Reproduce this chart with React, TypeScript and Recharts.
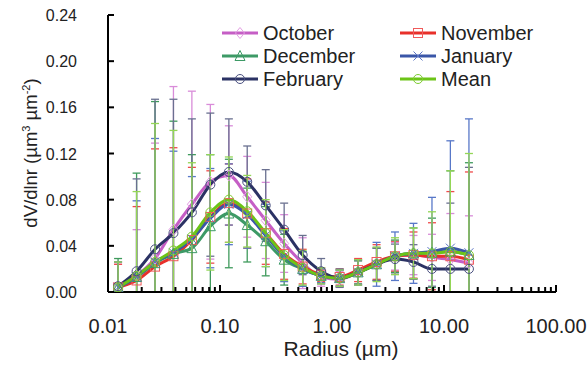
import React from 'react';
import { ComposedChart, Line, XAxis, YAxis, ErrorBar } from 'recharts';

// radius bins (µm)
const radii = [0.0123, 0.018, 0.0263, 0.0384, 0.0561, 0.082, 0.12, 0.175, 0.256, 0.374, 0.547, 0.8, 1.17, 1.71, 2.5, 3.65, 5.34, 7.81, 11.4, 16.7];

const october = [0.004, 0.014, 0.029, 0.054, 0.076, 0.0955, 0.101, 0.0825, 0.062, 0.042, 0.025, 0.013, 0.011, 0.017, 0.024, 0.031, 0.032, 0.03, 0.028, 0.025];
const november = [0.004, 0.01, 0.022, 0.031, 0.045, 0.065, 0.077, 0.068, 0.051, 0.033, 0.022, 0.015, 0.013, 0.019, 0.026, 0.031, 0.032, 0.031, 0.031, 0.028];
const december = [0.004, 0.013, 0.025, 0.033, 0.038, 0.057, 0.068, 0.058, 0.044, 0.028, 0.02, 0.014, 0.012, 0.017, 0.024, 0.031, 0.0335, 0.034, 0.035, 0.032];
const january = [0.004, 0.013, 0.026, 0.034, 0.046, 0.064, 0.076, 0.067, 0.049, 0.031, 0.02, 0.014, 0.012, 0.017, 0.024, 0.031, 0.0335, 0.035, 0.038, 0.034];
const february = [0.005, 0.018, 0.037, 0.051, 0.069, 0.093, 0.104, 0.0955, 0.075, 0.054, 0.032, 0.018, 0.012, 0.017, 0.024, 0.0285, 0.026, 0.02, 0.02, 0.02];
const mean = [0.004, 0.014, 0.026, 0.036, 0.048, 0.069, 0.08, 0.07, 0.051, 0.032, 0.021, 0.014, 0.012, 0.017, 0.024, 0.031, 0.0335, 0.0335, 0.035, 0.032];

// standard deviations
const octoberErr = [0.02, 0.04, 0.1, 0.124, 0.098, 0.067, 0.043, 0.035, 0.033, 0.025, 0.022, 0.008, 0.007, 0.01, 0.014, 0.012, 0.017, 0.02, 0.04, 0.041];
const novemberErr = [0.02, 0.064, 0.102, 0.094, 0.063, 0.04, 0.034, 0.03, 0.027, 0.022, 0.015, 0.006, 0.007, 0.01, 0.015, 0.013, 0.02, 0.029, 0.056, 0.076];
const decemberErr = [0.025, 0.09, 0.14, 0.115, 0.081, 0.062, 0.047, 0.032, 0.03, 0.022, 0.015, 0.006, 0.007, 0.01, 0.014, 0.014, 0.022, 0.03, 0.07, 0.08];
const januaryErr = [0.022, 0.066, 0.107, 0.088, 0.054, 0.043, 0.035, 0.029, 0.027, 0.022, 0.015, 0.006, 0.007, 0.011, 0.019, 0.021, 0.026, 0.047, 0.093, 0.116];
const februaryErr = [0.021, 0.08, 0.13, 0.116, 0.081, 0.062, 0.046, 0.031, 0.031, 0.023, 0.017, 0.011, 0.008, 0.011, 0.014, 0.013, 0.015, 0.015, 0.057, 0.088];
const meanErr = [0.022, 0.073, 0.12, 0.104, 0.064, 0.05, 0.037, 0.031, 0.029, 0.022, 0.015, 0.007, 0.007, 0.011, 0.015, 0.016, 0.022, 0.036, 0.07, 0.088];

const xTicks = [
  0.01, 0.02, 0.03, 0.04, 0.05, 0.06, 0.07, 0.08, 0.09,
  0.1, 0.2, 0.3, 0.4, 0.5, 0.6, 0.7, 0.8, 0.9,
  1, 2, 3, 4, 5, 6, 7, 8, 9,
  10, 20, 30, 40, 50, 60, 70, 80, 90,
  100,
];
const xMajor = [0.01, 0.1, 1, 10, 100];
const yTicks = [0, 0.04, 0.08, 0.12, 0.16, 0.2, 0.24];

const FONT = '"Liberation Sans", Arial, sans-serif';

// error bars stop at the x axis (lower arm cut at zero)
const bar = (v: number, e: number) => [Math.min(e, v), e];

const data = radii.map((r, i) => ({
  r,
  oct: october[i], octErr: bar(october[i], octoberErr[i]),
  nov: november[i], novErr: bar(november[i], novemberErr[i]),
  dec: december[i], decErr: bar(december[i], decemberErr[i]),
  jan: january[i], janErr: bar(january[i], januaryErr[i]),
  feb: february[i], febErr: bar(february[i], februaryErr[i]),
  mean: mean[i], meanErr: bar(mean[i], meanErr[i]),
}));

type Shape = 'diamond' | 'square' | 'triangle' | 'cross' | 'circle';

const series = [
  { key: 'oct', name: 'October', color: '#c55ec5', mark: '#e39de3', err: '#d98cd9', shape: 'diamond' as Shape },
  { key: 'nov', name: 'November', color: '#e8302a', mark: '#f05a5a', err: '#ef4a4a', shape: 'square' as Shape },
  { key: 'dec', name: 'December', color: '#3d9a66', mark: '#3d9a66', err: '#3f9a5c', shape: 'triangle' as Shape },
  { key: 'jan', name: 'January', color: '#3a56a8', mark: '#5a74c4', err: '#5878c8', shape: 'cross' as Shape },
  { key: 'feb', name: 'February', color: '#2b3264', mark: '#4a5080', err: '#6a7090', shape: 'circle' as Shape },
  { key: 'mean', name: 'Mean', color: '#6cc417', mark: '#7dcc30', err: '#94d656', shape: 'circle' as Shape },
];

function Marker({ cx, cy, shape, color }: { cx: number; cy: number; shape: Shape; color: string }) {
  const s = 4.5;
  const p = { fill: 'none', stroke: color, strokeWidth: 1 };
  if (shape === 'diamond') return <polygon points={`${cx},${cy - s - 1} ${cx + s},${cy} ${cx},${cy + s + 1} ${cx - s},${cy}`} {...p} />;
  if (shape === 'square') return <rect x={cx - s} y={cy - s} width={s * 2} height={s * 2} {...p} />;
  if (shape === 'triangle') return <polygon points={`${cx},${cy - s - 1} ${cx + s + 0.5},${cy + s} ${cx - s - 0.5},${cy + s}`} {...p} />;
  if (shape === 'cross') return <path d={`M${cx - s},${cy - s}L${cx + s},${cy + s}M${cx - s},${cy + s}L${cx + s},${cy - s}`} {...p} />;
  return <circle cx={cx} cy={cy} r={s} {...p} />;
}

const XTick = (props: any) => {
  const { x, y, payload } = props;
  const v = payload.value;
  const major = xMajor.includes(v);
  return (
    <g>
      <line x1={x} y1={y} x2={x} y2={y - (major ? 7 : 5)} stroke="#000" strokeWidth={2} />
      {major && (
        <text x={x} y={y + 41} textAnchor="middle" fontSize={20} fontFamily={FONT} fill="#222">
          {v.toFixed(2)}
        </text>
      )}
    </g>
  );
};

const YTick = (props: any) => {
  const { x, y, payload } = props;
  return (
    <g>
      <line x1={x} y1={y} x2={x + 6} y2={y} stroke="#000" strokeWidth={2} />
      <text x={x - 31} y={y + 6} textAnchor="end" fontSize={16} fontFamily={FONT} fill="#222">
        {payload.value.toFixed(2)}
      </text>
    </g>
  );
};

const YTitle = () => (
  <text x={37} y={153} transform="rotate(-90 37 153)" textAnchor="middle" fontSize={18.5} fontFamily={FONT} fill="#222">
    dV/dlnr (µm
    <tspan dy={-7} fontSize={11}>3</tspan>
    <tspan dy={7}> µm</tspan>
    <tspan dy={-7} fontSize={11}>-2</tspan>
    <tspan dy={7}>)</tspan>
  </text>
);

const LegendBox = () => {
  const cols = [222, 400];
  const rows = [33, 56, 79];
  return (
    <svg width={587} height={100} style={{ position: 'absolute', left: 0, top: 0, pointerEvents: 'none' }}>
      {series.map((s, i) => {
        const x = cols[i % 2];
        const y = rows[Math.floor(i / 2)];
        return (
          <g key={s.key}>
            <line x1={x} y1={y} x2={x + 36} y2={y} stroke={s.color} strokeWidth={3} />
            <Marker cx={x + 18} cy={y} shape={s.shape} color={s.mark} />
            <text x={x + 41} y={y + 7} fontSize={20} fontFamily={FONT} fill="#222">{s.name}</text>
          </g>
        );
      })}
    </svg>
  );
};

export default function App() {
  return (
    <div style={{ position: 'absolute', left: 0, top: 0, width: 587, height: 365, background: '#fff' }}>
      <ComposedChart width={587} height={365} data={data} margin={{ top: 15, right: 31, left: 0, bottom: 0 }}>
        <XAxis
          dataKey="r"
          type="number"
          scale="log"
          domain={[0.01, 100]}
          ticks={xTicks}
          interval={0}
          allowDataOverflow
          height={73}
          tickSize={0}
          tickMargin={0}
          tickLine={false}
          tick={<XTick />}
          axisLine={{ stroke: '#000', strokeWidth: 2 }}
        />
        <XAxis xAxisId="top" orientation="top" type="number" scale="log" domain={[0.01, 100]} height={0} tick={false} tickLine={false} axisLine={{ stroke: '#000', strokeWidth: 2 }} />
        <YAxis
          type="number"
          domain={[0, 0.24]}
          ticks={yTicks}
          interval={0}
          allowDataOverflow
          width={108}
          tickSize={0}
          tickMargin={0}
          tickLine={false}
          tick={<YTick />}
          axisLine={{ stroke: '#000', strokeWidth: 2 }}
          label={{ content: () => <YTitle /> }}
        />
        <YAxis yAxisId="right" orientation="right" domain={[0, 0.24]} width={0} tick={false} tickLine={false} axisLine={{ stroke: '#000', strokeWidth: 2 }} />
        {series.map((s) => (
          <Line
            key={s.key}
            dataKey={s.key}
            type="monotone"
            stroke={s.color}
            strokeWidth={3}
            isAnimationActive={false}
            dot={(p: any) => <Marker key={`${s.key}-${p.index}`} cx={p.cx} cy={p.cy} shape={s.shape} color={s.mark} />}
            activeDot={false}
          >
            <ErrorBar dataKey={`${s.key}Err`} direction="y" width={4} stroke={s.err} strokeWidth={1.3} />
          </Line>
        ))}
        <text x={341} y={356} textAnchor="middle" fontSize={21} fontFamily={FONT} fill="#222">Radius (µm)</text>
      </ComposedChart>
      <LegendBox />
    </div>
  );
}
